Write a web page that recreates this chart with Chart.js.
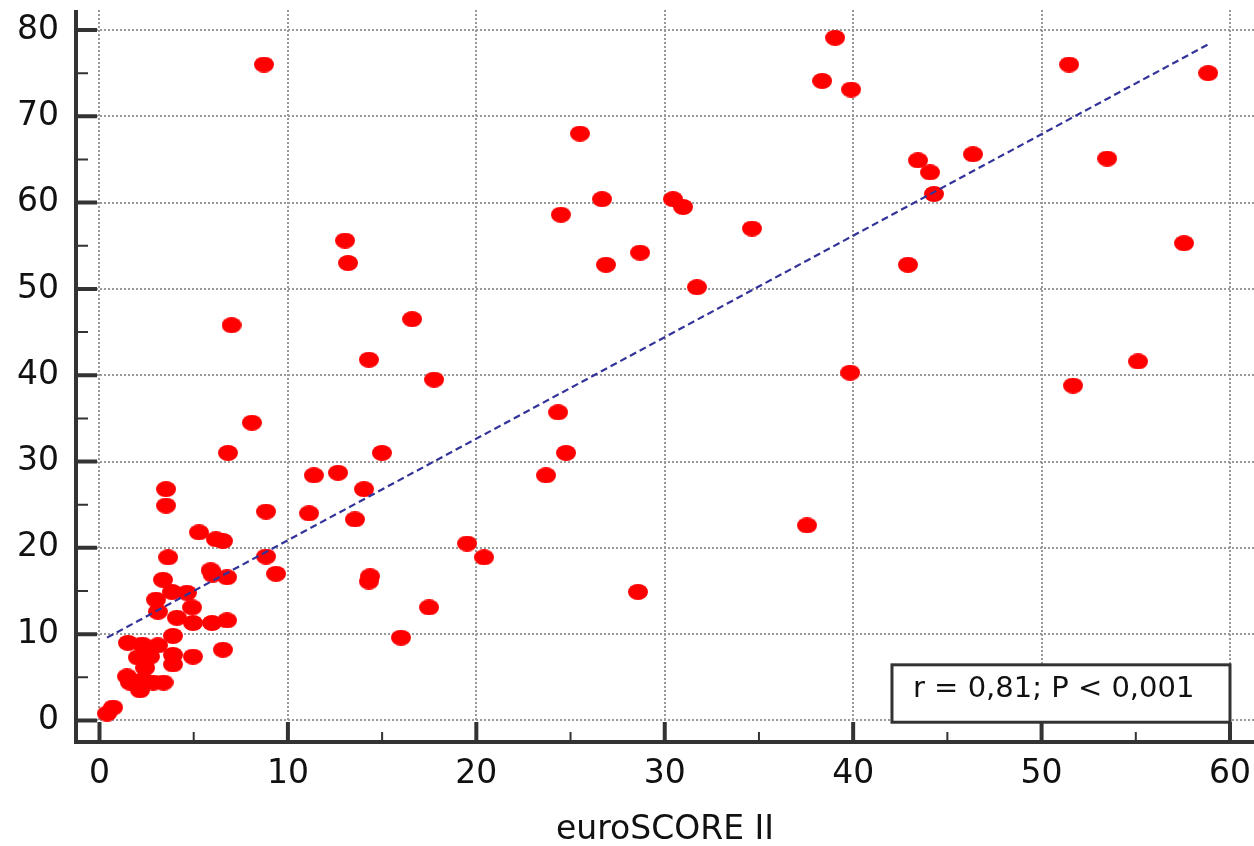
<!DOCTYPE html>
<html>
<head>
<meta charset="utf-8">
<script src="https://cdn.jsdelivr.net/npm/chart.js@4"></script>
<style>
  html, body { margin: 0; padding: 0; background: #fff; }
  #wrap { width: 1254px; height: 846px; }
</style>
</head>
<body>
<div id="wrap"><canvas id="scatter" width="1254" height="846"></canvas></div>
<script>
// ── Data ─────────────────────────────────────
const euroScore = [
  8.73, 39.04, 38.35, 39.89, 51.46, 58.84, 43.44, 44.08, 44.29, 46.36,
  53.48, 57.56, 42.91, 39.84, 51.67, 55.12, 34.63, 37.55, 25.5, 26.67,
  24.49, 30.44, 30.97, 28.69, 26.88, 31.71, 24.34, 24.76, 23.70, 19.51,
  20.41, 28.58, 13.03, 13.19, 16.59, 14.30, 17.76, 14.99, 11.38, 12.66,
  14.04, 11.12, 13.56, 14.36, 14.30, 17.49, 16.0, 9.37, 8.84, 7.01,
  8.09, 6.82, 3.53, 3.53, 8.84, 5.28, 6.18, 6.55, 3.64, 3.37,
  5.9, 6.0, 6.77, 3.85, 4.64, 3.0, 3.1, 4.91, 4.11, 4.96,
  5.97, 6.77, 3.9, 1.51, 2.26, 3.1, 2.04, 2.68, 3.9, 4.96,
  6.55, 3.9, 2.42, 1.46, 1.62, 2.15, 2.85, 2.31, 0.4, 0.72,
  3.4
];
const outcome = [
  76.0, 79.1, 74.1, 73.1, 76.0, 75.0, 64.9, 63.5, 61.0, 65.6,
  65.1, 55.3, 52.8, 40.3, 38.8, 41.6, 57.0, 22.6, 68.0, 60.4,
  58.6, 60.4, 59.5, 54.2, 52.8, 50.2, 35.7, 31.0, 28.4, 20.5,
  18.9, 14.9, 55.6, 53.0, 46.5, 41.8, 39.5, 31.0, 28.4, 28.7,
  26.8, 24.0, 23.3, 16.7, 16.1, 13.1, 9.6, 17.0, 19.0, 45.8,
  34.5, 31.0, 26.8, 24.9, 24.2, 21.8, 21.0, 20.8, 18.9, 16.3,
  17.4, 16.9, 16.6, 14.9, 14.8, 14.0, 12.6, 13.1, 11.9, 11.3,
  11.3, 11.6, 9.8, 9.0, 8.8, 8.7, 7.3, 7.4, 7.6, 7.4,
  8.2, 6.5, 6.1, 5.1, 4.4, 3.5, 4.4, 4.7, 0.8, 1.5,
  4.4
];

// regression line end points
const fitX = [0.4, 58.9];
const fitY = [9.6, 78.4];

// axis ticks
const xTicks = [0, 10, 20, 30, 40, 50, 60];
const yTicks = [0, 10, 20, 30, 40, 50, 60, 70, 80];

const statText = 'r = 0,81; P < 0,001';
const statBox  = { x1: 42.06, x2: 60, y1: 6.45, y2: -0.2 };

// ── Marker: slightly wide red ellipse ─────────
const dot = document.createElement('canvas');
dot.width = 20; dot.height = 16;
(function () {
  const c = dot.getContext('2d');
  c.fillStyle = '#ff0000';
  c.beginPath();
  c.ellipse(10, 8, 10, 8, 0, 0, Math.PI * 2);
  c.fill();
})();

// ── Axes frame, inside ticks, stat box ────────
const axisFrame = {
  id: 'axisFrame',
  afterDraw(chart) {
    const { ctx, chartArea: a, scales: { x, y } } = chart;
    ctx.save();
    ctx.strokeStyle = '#333333';

    // minor ticks
    ctx.lineWidth = 2;
    ctx.beginPath();
    for (let i = 0; i < xTicks.length - 1; i++) {
      const px = x.getPixelForValue((xTicks[i] + xTicks[i + 1]) / 2);
      ctx.moveTo(px, a.bottom);
      ctx.lineTo(px, a.bottom - 10);
    }
    for (let i = 0; i < yTicks.length - 1; i++) {
      const py = y.getPixelForValue((yTicks[i] + yTicks[i + 1]) / 2);
      ctx.moveTo(a.left, py);
      ctx.lineTo(a.left + 12, py);
    }
    ctx.stroke();

    // major ticks
    ctx.lineWidth = 4;
    ctx.beginPath();
    xTicks.forEach(v => {
      const px = x.getPixelForValue(v);
      ctx.moveTo(px, a.bottom);
      ctx.lineTo(px, a.bottom - 20);
    });
    yTicks.forEach(v => {
      const py = y.getPixelForValue(v);
      ctx.moveTo(a.left, py);
      ctx.lineTo(a.left + 21, py);
    });
    ctx.stroke();

    // axis lines
    ctx.lineWidth = 4;
    ctx.beginPath();
    ctx.moveTo(a.left, a.top);
    ctx.lineTo(a.left, a.bottom);
    ctx.lineTo(a.right, a.bottom);
    ctx.stroke();

    // stat box
    const bx1 = x.getPixelForValue(statBox.x1);
    const bx2 = x.getPixelForValue(statBox.x2);
    const by1 = y.getPixelForValue(statBox.y1);
    const by2 = y.getPixelForValue(statBox.y2);
    ctx.fillStyle = '#ffffff';
    ctx.fillRect(bx1, by1, bx2 - bx1, by2 - by1);
    ctx.lineWidth = 3;
    ctx.strokeRect(bx1, by1, bx2 - bx1, by2 - by1);
    ctx.fillStyle = '#111111';
    ctx.font = '29px "DejaVu Sans"';
    ctx.textAlign = 'left';
    ctx.textBaseline = 'middle';
    ctx.fillText(statText, bx1 + 21, (by1 + by2) / 2 - 4);
    ctx.restore();
  }
};

// drop the label overhang padding so the plot fills the canvas
function noPad(s) {
  s.paddingLeft = 0; s.paddingRight = 0;
  s.paddingTop = 0;  s.paddingBottom = 0;
}

Chart.defaults.font.family = '"DejaVu Sans", Verdana, sans-serif';
Chart.defaults.color = '#111111';

new Chart(document.getElementById('scatter').getContext('2d'), {
  type: 'scatter',
  data: {
    datasets: [
      {
        type: 'line',
        data: fitX.map((v, i) => ({ x: v, y: fitY[i] })),
        borderColor: '#333399',
        borderWidth: 2.2,
        borderDash: [7, 4],
        pointRadius: 0,
        fill: false,
        order: 1,
      },
      {
        data: euroScore.map((v, i) => ({ x: v, y: outcome[i] })),
        pointStyle: dot,
        pointRadius: 9,
        backgroundColor: '#ff0000',
        order: 2,
      }
    ]
  },
  options: {
    responsive: false,
    animation: false,
    layout: {
      autoPadding: false,
      padding: { top: 10, right: 0, bottom: 0, left: 0 }
    },
    plugins: {
      legend:  { display: false },
      tooltip: { enabled: false },
    },
    scales: {
      x: {
        type: 'linear',
        min: -1.247,
        max: 61.274,
        afterFit: s => { s.height = 104; noPad(s); },
        border: { display: false, dash: [2, 2] },
        grid: { color: '#999999', lineWidth: 2, drawTicks: false },
        ticks: {
          stepSize: 10,
          includeBounds: false,
          padding: 13,
          font: { size: 33 },
          color: '#111111',
        },
        title: {
          display: true,
          text: 'euroSCORE II',
          font: { size: 33 },
          color: '#111111',
          padding: { top: 0, bottom: -4 },
        }
      },
      y: {
        type: 'linear',
        min: -2.491,
        max: 82.317,
        afterFit: s => { s.width = 76; noPad(s); },
        border: { display: false, dash: [2, 2] },
        grid: { color: '#999999', lineWidth: 2, drawTicks: false },
        ticks: {
          stepSize: 10,
          includeBounds: false,
          padding: 17,
          font: { size: 33 },
          color: '#111111',
        }
      }
    }
  },
  plugins: [axisFrame]
});
</script>
</body>
</html>
